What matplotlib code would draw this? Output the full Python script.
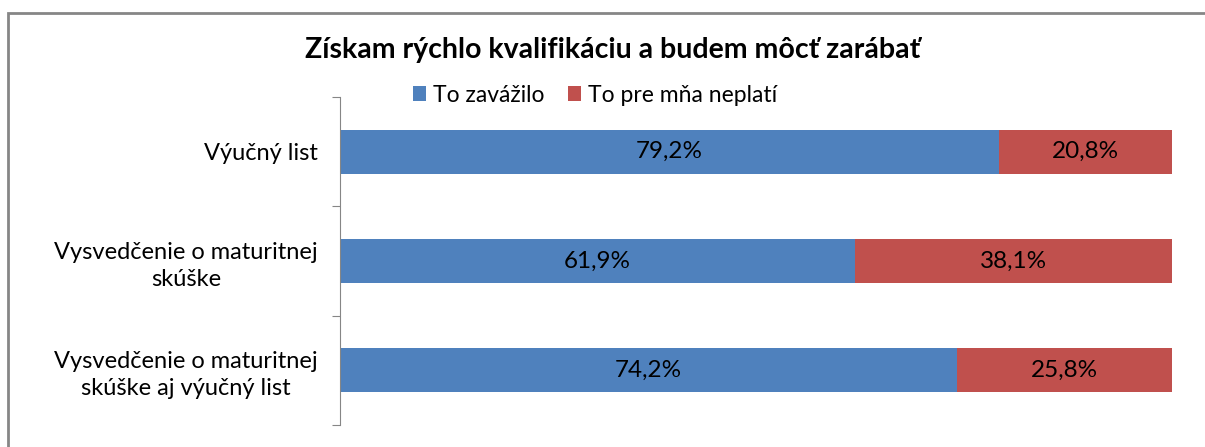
import matplotlib.pyplot as plt
from matplotlib.patches import Rectangle

plt.rcParams['font.family'] = ['Lato', 'DejaVu Sans']

categories = ["Výučný list", "Vysvedčenie o maturitnej\nskúške", "Vysvedčenie o maturitnej\nskúške aj výučný list"]
zavazilo = [79.2, 61.9, 74.2]
neplati = [20.8, 38.1, 25.8]
series_names = ["To zavážilo", "To pre mňa neplatí"]
colors = ["#4F81BD", "#C0504D"]

W, H = 1205, 447
fig = plt.figure(figsize=(W / 100, H / 100), dpi=100)

# outer chart frame (runs off the right and bottom edges)
fig.patches.append(Rectangle((8 / W, -0.1), 1.2, 1 - 13 / H + 0.1, transform=fig.transFigure,
                             fill=False, edgecolor="#868686", linewidth=2))

ax = fig.add_axes([340 / W, 1 - 425 / H, (1172 - 340) / W, (425 - 97) / H])

y = list(range(len(categories)))
b1 = ax.barh(y, zavazilo, height=0.4, color=colors[0], label=series_names[0])
b2 = ax.barh(y, neplati, left=zavazilo, height=0.4, color=colors[1], label=series_names[1])

for vals, lefts in [(zavazilo, [0] * 3), (neplati, zavazilo)]:
    for yi, v, l in zip(y, vals, lefts):
        ax.text(l + v / 2, yi, f"{v:.1f}%".replace(".", ","), ha="center", va="center",
                fontsize=17.5, color="black")

ax.set_xlim(0, 100)
ax.set_ylim(2.5, -0.5)
ax.set_yticks([-0.5, 0.5, 1.5, 2.5])
ax.set_yticklabels([])
ax.set_yticks(y, minor=True)
ax.set_yticklabels(categories, minor=True, fontsize=17, ha="right", multialignment="center",
                   linespacing=1.35)
ax.tick_params(axis="y", which="major", length=6, color="#868686")
ax.tick_params(axis="y", which="minor", length=0, pad=16)
ax.set_xticks([])
for s in ["top", "right", "bottom"]:
    ax.spines[s].set_visible(False)
ax.spines["left"].set_color("#868686")

fig.text(613 / W, 1 - 50 / H, "Získam rýchlo kvalifikáciu a budem môcť zarábať",
         ha="center", va="center", fontsize=20.5, fontweight="bold")
fig.legend(loc="center", bbox_to_anchor=(595 / W, 1 - 95 / H), ncol=2, frameon=False,
           fontsize=16.5, handlelength=0.6, handleheight=0.6, handletextpad=0.3, columnspacing=1.0)

fig.savefig("out.png", dpi=100)
